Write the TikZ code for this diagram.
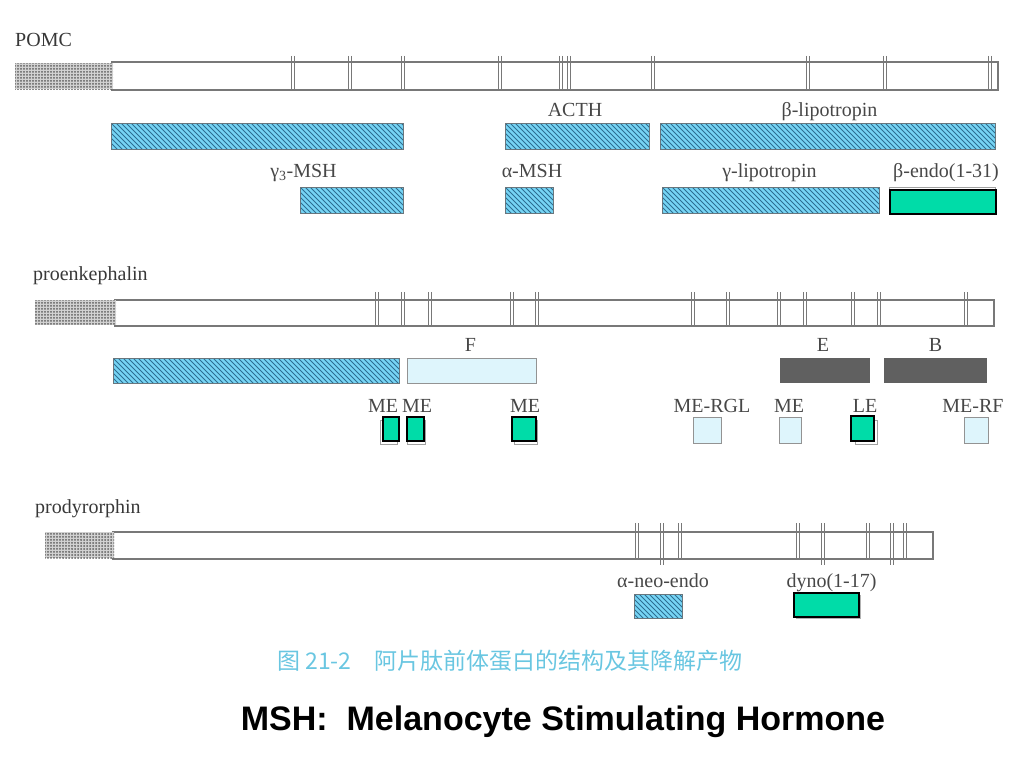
\documentclass[tikz,border=0pt]{standalone}
\usepackage{fontspec}
\setmainfont{Liberation Serif}
\newfontfamily\capfont{Noto Sans CJK SC}
\newfontfamily\hdfont{Liberation Sans}
\usepackage{tikz}
\usetikzlibrary{positioning,patterns.meta}
\definecolor{hatchblue}{RGB}{118,212,244}
\definecolor{hatchline}{RGB}{45,110,145}
\definecolor{endogreen}{RGB}{0,220,168}
\definecolor{paleblue}{RGB}{222,245,252}
\definecolor{darkbox}{RGB}{96,96,96}
\definecolor{capblue}{RGB}{105,198,225}
\definecolor{rimgray}{RGB}{120,120,120}

\begin{document}
\begin{tikzpicture}[x=1pt,y=-1pt,node distance=2pt,
  every node/.style={inner sep=0pt},
  chain/.style={draw=rimgray, line width=1.1pt, fill=white},
  signal/.style={preaction={fill=gray!35}, pattern={Dots[distance=3pt,radius=1pt]}, pattern color=gray!75!black},
  hatch/.style={draw=rimgray!80!hatchline, line width=0.9pt, fill=hatchblue,
    path picture={\foreach \k in {-30,-25,...,370}
      \draw[hatchline, line width=1pt] ([xshift=\k pt]path picture bounding box.north west) -- ++(30,30);}},
  pale/.style={draw=rimgray!80, line width=0.8pt, fill=paleblue},
  dark/.style={fill=darkbox},
  endo/.style={draw=black, line width=1.2pt, fill=endogreen},
  under/.style={draw=rimgray!70, line width=0.8pt, fill=white},
  lbl/.style={font=\fontsize{20}{24}\selectfont, text=black!72, text height=13pt, text depth=4pt},
  title/.style={font=\fontsize{20}{24}\selectfont, text=black!78, anchor=base west},
  tick/.style={draw=rimgray, line width=0.8pt}]
\useasboundingbox (0,0) rectangle (1024,768);

% POMC
\node[title] (pomcT) at (15,46) {POMC};
\node[chain, minimum width=886pt, minimum height=28pt] (pomc) at (555,76) {};
\node[signal, minimum width=98pt, minimum height=26pt] (pomcS) at (64,76) {};
\foreach \t in {293,350,403,500,560.5,569,653,808,885,990}
  \draw[tick] (\t-1.5,56) -- (\t-1.5,90) (\t+1.5,56) -- (\t+1.5,90);

\node[hatch, minimum width=292pt, minimum height=26pt] (pomcN) at (257,136) {};
\node[hatch, minimum width=144pt, minimum height=26pt] (acth) at (577,136) {};
\node[hatch, minimum width=335pt, minimum height=26pt] (blph) at (827.5,136) {};
\node[lbl, above=of acth, xshift=-2pt] (acthL) {ACTH};
\node[lbl, above=of blph, xshift=2pt] (blphL) {β-lipotropin};

\node[hatch, minimum width=103pt, minimum height=26pt] (g3msh) at (351.5,200) {};
\node[hatch, minimum width=48pt, minimum height=26pt] (amsh) at (529,200) {};
\node[hatch, minimum width=217pt, minimum height=26pt] (glph) at (770.5,200) {};
\node[under, minimum width=106pt, minimum height=25pt] (bendoU) at (942,199.5) {};
\node[endo, minimum width=106pt, minimum height=24pt] (bendo) at (943,202) {};
\node[lbl, above=5pt of g3msh, xshift=-48pt] (g3mshL) {γ\textsubscript{3}-MSH};
\node[lbl, above=5pt of amsh, xshift=3pt] (amshL) {α-MSH};
\node[lbl, above=5pt of glph, xshift=-1pt] (glphL) {γ-lipotropin};
\node[lbl, above=5pt of bendoU, xshift=4pt] (bendoL) {β-endo(1-31)};

% proenkephalin
\node[title] (penkT) at (33,280) {proenkephalin};
\node[chain, minimum width=879pt, minimum height=26pt] (penk) at (554.5,313) {};
\node[signal, minimum width=81pt, minimum height=25pt] (penkS) at (75.5,312.5) {};
\foreach \t in {377,403,430,512,537,693,728,779,805,853,879,966}
  \draw[tick] (\t-1.5,292) -- (\t-1.5,326) (\t+1.5,292) -- (\t+1.5,326);

\node[hatch, minimum width=286pt, minimum height=25pt] (penkN) at (256,370.5) {};
\node[pale, minimum width=129pt, minimum height=25pt] (fpep) at (471.5,370.5) {};
\node[dark, minimum width=90pt, minimum height=25pt] (epep) at (825,370.5) {};
\node[dark, minimum width=103pt, minimum height=25pt] (bpep) at (935.5,370.5) {};
\node[lbl, above=of fpep, xshift=-1pt] (fpepL) {F};
\node[lbl, above=of epep, xshift=-2pt] (epepL) {E};
\node[lbl, above=of bpep] (bpepL) {B};

\node[under, minimum width=17pt, minimum height=24pt] (me1U) at (388.5,432) {};
\node[endo, minimum width=16pt, minimum height=24pt] (me1) at (391,429) {};
\node[under, minimum width=18pt, minimum height=24pt] (me2U) at (416,432) {};
\node[endo, minimum width=17pt, minimum height=24pt] (me2) at (415.5,429) {};
\node[under, minimum width=23pt, minimum height=24pt] (me3U) at (525.5,432) {};
\node[endo, minimum width=24pt, minimum height=24pt] (me3) at (524,429) {};
\node[pale, minimum width=28pt, minimum height=26pt] (rgl) at (707,430) {};
\node[pale, minimum width=22pt, minimum height=26pt] (me4) at (790,430) {};
\node[under, minimum width=22pt, minimum height=24pt] (leU) at (866,432) {};
\node[endo, minimum width=23pt, minimum height=25pt] (le) at (862.5,428.5) {};
\node[pale, minimum width=24pt, minimum height=26pt] (rf) at (976,430) {};
\node[lbl, above=0pt of me1, xshift=-8pt] (me1L) {ME};
\node[lbl, above=0pt of me2, xshift=1.5pt] (me2L) {ME};
\node[lbl, above=0pt of me3, xshift=1pt] (me3L) {ME};
\node[lbl, above=0pt of rgl, xshift=5pt] (rglL) {ME-RGL};
\node[lbl, above=0pt of me4, xshift=-1pt] (me4L) {ME};
\node[lbl, above=-1pt of le, xshift=2.5pt] (leL) {LE};
\node[lbl, above=0pt of rf, xshift=-3pt] (rfL) {ME-RF};

% prodyrorphin
\node[title] (pdynT) at (35,513) {prodyrorphin};
\node[chain, minimum width=820pt, minimum height=27pt] (pdyn) at (523,545.5) {};
\node[signal, minimum width=69pt, minimum height=26pt] (pdynS) at (79.5,545) {};
\foreach \t/\b in {637/559,662/565,680/559,798/559,823/565,868/559,892/565,905/559}
  \draw[tick] (\t-1.5,523) -- (\t-1.5,\b) (\t+1.5,523) -- (\t+1.5,\b);

\node[hatch, minimum width=48pt, minimum height=24pt] (aneo) at (658,606) {};
\node[fill=gray!60, minimum width=65pt, minimum height=24pt] (dynoU) at (828.5,607) {};
\node[endo, minimum width=65pt, minimum height=24pt] (dyno) at (826.5,605) {};
\node[lbl, above=of aneo, xshift=5pt] (aneoL) {α-neo-endo};
\node[lbl, above=1pt of dyno, xshift=5pt] (dynoL) {dyno(1-17)};

% caption
\node[font=\capfont\fontsize{23}{28}\selectfont, text=capblue] (cap) at (510,661) {图 21-2\quad 阿片肽前体蛋白的结构及其降解产物};
\node[font=\hdfont\bfseries\fontsize{34}{40}\selectfont, anchor=base] (msh) at (563,730) {MSH:\ \ Melanocyte Stimulating Hormone};
\end{tikzpicture}
\end{document}
